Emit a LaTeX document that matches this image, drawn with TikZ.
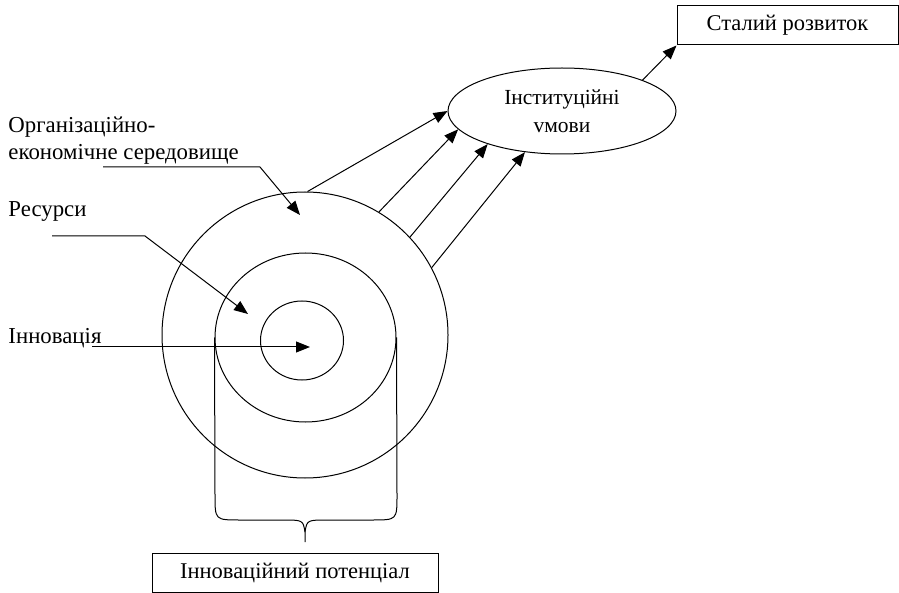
\documentclass[tikz,border=0pt]{standalone}
\usepackage{fontspec}
\setmainfont{Liberation Serif}
\usetikzlibrary{arrows.meta, shapes.geometric}

\tikzset{
  box/.style = {draw, line width = 1pt, inner sep = 0pt, font = \fontsize{22.5}{26}\selectfont},
  ell/.style = {draw, ellipse, line width = 1pt, inner sep = 0pt, minimum width = 228pt,
                minimum height = 86pt, align = center, font = \fontsize{21.5}{28.5}\selectfont},
  ring/.style = {draw, ellipse, line width = 1pt, inner sep = 0pt},
  lbl/.style = {anchor = base west, inner sep = 0pt, font = \fontsize{22.8}{26}\selectfont},
  arr/.style = {line width = 1pt, -{Triangle[length = 14pt, width = 11pt]}}
}

\begin{document}
\begin{tikzpicture}[x = 1pt, y = -1pt, line width = 1pt]
       \useasboundingbox (0, 0) rectangle (899, 593);
       % три кола
       \node [ring, minimum width = 286pt, minimum height = 286pt] (outer) at (305, 335) {};
       \node [ring, minimum width = 181pt, minimum height = 169pt] (mid) at (305.5, 337.5) {};
       \node [ring, minimum width = 83pt, minimum height = 79pt] (inn) at (302, 340.5) {};

       % еліпс і прямокутники
       \node [ell] (inst) at (562, 111) {Інституційні\\vмови};
       \node [box, minimum width = 221pt, minimum height = 39pt] (rozv) at (787.5, 25.5) {Сталий розвиток};
       \node [box, minimum width = 286pt, minimum height = 39pt] (pot) at (295, 572.5) {Інноваційний потенціал};

       % підписи зліва
       \node [lbl] (org1) at (8, 133) {Організаційно-};
       \node [lbl] (org2) at (8, 160) {економічне середовище};
       \node [lbl] (res) at (8, 217) {Ресурси};
       \node [lbl] (inv) at (8, 344) {Інновація};

       % вказівники
       \coordinate (orgA) at (103, 167);
       \coordinate (orgB) at (260, 167);
       \coordinate (orgT) at (300, 215);
       \draw [arr] (orgA) -- (orgB) -- (orgT);
       \coordinate (resA) at (52, 236);
       \coordinate (resB) at (145, 236);
       \coordinate (resT) at (248, 314);
       \draw [arr] (resA) -- (resB) -- (resT);
       \coordinate (invA) at (92, 347);
       \coordinate (invT) at (310, 347);
       \draw [arr] (invA) -- (invT);

       % стрілки до еліпса
       \draw [arr] (outer.89) -- (inst.180);
       \draw [arr] (outer.59) -- (inst.190);
       \draw [arr] (outer.43) -- (inst.204);
       \draw [arr] (outer.28) -- (inst.228);
       \draw [arr] (inst.21) -- (rozv.south west);

       % дужка
       \coordinate (tip) at (305, 542);
       \draw (mid.west) -- (215, 495) .. controls (215, 520) .. (240, 520) -- (282, 520)
             .. controls (303, 520) .. (305, 532) -- (tip);
       \draw (mid.east) -- (397, 495) .. controls (397, 520) .. (372, 520) -- (328, 520)
             .. controls (307, 520) .. (305, 532);
     \end{tikzpicture}
\end{document}
